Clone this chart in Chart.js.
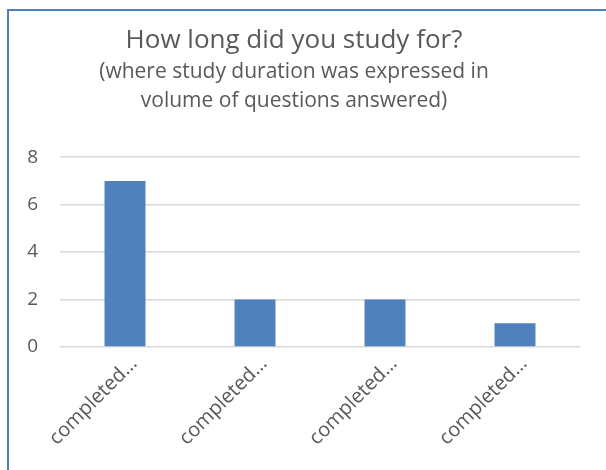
<!DOCTYPE html>
<html>
<head>
<meta charset="utf-8">
<script src="https://cdn.jsdelivr.net/npm/chart.js@4.4.0/dist/chart.umd.min.js"></script>
<style>
  body { margin: 0; background: #fff; }
  #wrap { position: relative; width: 606px; height: 470px; overflow: hidden; }
  #frame {
    position: absolute; left: 7px; top: 9px; width: 620px; height: 480px;
    border-left: 2px solid #4F81BD; border-top: 2px solid #4F81BD;
  }
  #box { position: absolute; left: 0; top: 0; width: 580px; height: 470px; }
</style>
</head>
<body>
<div id="wrap">
  <div id="frame"></div>
  <div id="box"><canvas id="chart"></canvas></div>
</div>
<script>
// Dados do grafico
const categorias = ['completed…', 'completed…', 'completed…', 'completed…'];
const valores = [7, 2, 2, 1];
const tituloTexto = 'How long did you study for?';
const subtituloLinhas = ['(where study duration was expressed in', 'volume of questions answered)'];

const corTexto = '#595959';
const fonte = '"Open Sans", "DejaVu Sans", sans-serif';

Chart.defaults.font.family = fonte;
Chart.defaults.color = corTexto;

const ctx = document.getElementById('chart').getContext('2d');
const grafico = new Chart(ctx, {
  type: 'bar',
  data: {
    labels: categorias,
    datasets: [{
      data: valores,
      backgroundColor: '#4F81BD',
      borderWidth: 0,
      categoryPercentage: 1,
      barPercentage: 0.315
    }]
  },
  options: {
    responsive: true,
    maintainAspectRatio: false,
    animation: false,
    layout: { padding: { left: 8, right: 0, top: 0, bottom: 0 } },
    plugins: {
      legend: { display: false },
      tooltip: { enabled: false },
      title: {
        display: true,
        text: tituloTexto,
        color: corTexto,
        font: { size: 26, weight: 'normal', lineHeight: 1.2 },
        padding: { top: 25, bottom: 1 }
      },
      subtitle: {
        display: true,
        text: subtituloLinhas,
        color: corTexto,
        font: { size: 21, weight: 'normal', lineHeight: 1.38 },
        padding: { top: 0, bottom: 42 }
      }
    },
    scales: {
      y: {
        min: 0,
        max: 8,
        ticks: { stepSize: 2, padding: 22, font: { size: 19 }, color: corTexto },
        grid: { color: '#D9D9D9', lineWidth: 1.5, drawTicks: false },
        border: { display: false },
        afterFit: s => { s.width = 52; }
      },
      x: {
        ticks: {
          minRotation: 45, maxRotation: 45, autoSkip: false,
          font: { size: 20 }, color: corTexto, padding: 5, labelOffset: 9
        },
        grid: { display: false, drawTicks: false },
        border: { display: false },
        afterFit: s => { s.height = 123; }
      }
    }
  }
});
</script>
</body>
</html>
